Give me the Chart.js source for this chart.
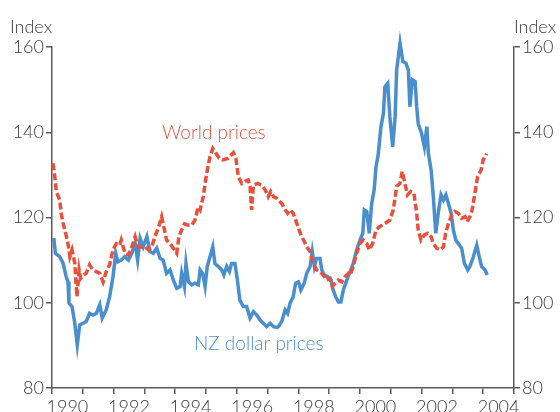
<!DOCTYPE html>
<html lang="en">
  <head>
    <meta charset="utf-8" />
    <title>World and NZ dollar prices</title>
    <style>
      html, body { margin: 0; padding: 0; background: #fff; }
      #wrap { width: 560px; height: 412px; }
    </style>
  </head>
  <body>
    <div id="wrap"><canvas id="pricesChart" width="560" height="412"></canvas></div>

    <script src="https://cdn.jsdelivr.net/npm/chart.js"></script>
    <script>
      // values (index, decimal year)
      const worldYears = [1990.03, 1990.09, 1990.14, 1990.25, 1990.30, 1990.36, 1990.43, 1990.52, 1990.58, 1990.65,
        1990.74, 1990.81, 1990.88, 1990.93, 1991.01, 1991.11, 1991.22, 1991.33, 1991.44, 1991.55,
        1991.66, 1991.76, 1991.87, 1991.98, 1992.09, 1992.20, 1992.25, 1992.37, 1992.48, 1992.59,
        1992.70, 1992.80, 1992.91, 1993.02, 1993.13, 1993.24, 1993.34, 1993.45, 1993.56, 1993.65,
        1993.72, 1993.83, 1993.94, 1994.05, 1994.12, 1994.21, 1994.30, 1994.43, 1994.54, 1994.64,
        1994.75, 1994.81, 1994.91, 1995.02, 1995.13, 1995.22, 1995.33, 1995.43, 1995.56, 1995.72,
        1995.89, 1995.97, 1996.05, 1996.16, 1996.27, 1996.37, 1996.43, 1996.48, 1996.54, 1996.67,
        1996.81, 1996.92, 1997.02, 1997.10, 1997.19, 1997.30, 1997.40, 1997.46, 1997.57, 1997.65,
        1997.73, 1997.83, 1997.95, 1998.02, 1998.11, 1998.19, 1998.27, 1998.38, 1998.48, 1998.59,
        1998.70, 1998.81, 1998.92, 1999.03, 1999.10, 1999.19, 1999.30, 1999.41, 1999.51, 1999.62,
        1999.68, 1999.78, 1999.89, 2000.00, 2000.11, 2000.22, 2000.30, 2000.41, 2000.52, 2000.65,
        2000.81, 2000.97, 2001.08, 2001.19, 2001.30, 2001.37, 2001.46, 2001.54, 2001.65, 2001.75,
        2001.84, 2001.89, 2001.98, 2002.09, 2002.20, 2002.31, 2002.38, 2002.49, 2002.60, 2002.71,
        2002.78, 2002.87, 2002.98, 2003.08, 2003.19, 2003.30, 2003.41, 2003.48, 2003.57, 2003.64,
        2003.73, 2003.82, 2003.93, 2004.00, 2004.11];
      const worldIndex = [132.7, 129.6, 126.1, 124.1, 121.0, 118.6, 116.7, 113.9, 110.8, 112.4,
        109.3, 101.4, 107.7, 105.7, 106.5, 106.9, 108.9, 107.7, 107.3, 106.9,
        104.9, 107.3, 108.9, 112.4, 113.9, 113.5, 114.7, 111.6, 111.2, 113.1,
        115.5, 113.1, 113.1, 113.1, 112.4, 113.1, 115.5, 117.5, 120.2, 117.1,
        114.7, 113.9, 112.8, 111.6, 115.5, 117.1, 118.5, 118.2, 118.2, 119.4,
        122.5, 121.8, 124.9, 130.3, 134.3, 136.2, 135.0, 133.9, 133.5, 133.9,
        135.2, 133.9, 129.6, 128.0, 128.5, 128.8, 127.3, 121.8, 127.6, 128.0,
        127.6, 126.5, 124.9, 126.1, 124.9, 124.5, 123.7, 123.3, 121.8, 121.0,
        121.8, 121.0, 118.6, 117.1, 115.5, 114.4, 113.1, 112.0, 109.2, 107.7,
        107.3, 106.5, 105.3, 105.7, 103.8, 104.6, 105.3, 104.9, 106.1, 106.9,
        106.5, 108.5, 111.6, 113.9, 114.7, 113.9, 112.4, 113.9, 117.1, 117.9,
        118.6, 119.4, 121.8, 127.3, 128.0, 130.8, 128.0, 125.3, 126.1, 125.7,
        121.0, 117.1, 114.7, 115.9, 116.3, 115.5, 113.9, 112.8, 112.4, 113.1,
        116.3, 118.6, 120.6, 121.4, 121.0, 119.8, 120.2, 119.0, 120.2, 121.8,
        125.7, 129.6, 131.1, 133.5, 135.0];

      const nzYears = [1990.06, 1990.11, 1990.25, 1990.36, 1990.46, 1990.52, 1990.55, 1990.65, 1990.74, 1990.82,
        1990.90, 1991.01, 1991.11, 1991.22, 1991.33, 1991.44, 1991.55, 1991.63, 1991.76, 1991.87,
        1991.98, 1992.07, 1992.14, 1992.25, 1992.36, 1992.48, 1992.59, 1992.70, 1992.78, 1992.86,
        1992.96, 1993.08, 1993.18, 1993.29, 1993.40, 1993.51, 1993.61, 1993.72, 1993.83, 1993.94,
        1994.05, 1994.16, 1994.21, 1994.30, 1994.35, 1994.43, 1994.54, 1994.64, 1994.75, 1994.81,
        1994.89, 1994.97, 1995.04, 1995.13, 1995.22, 1995.29, 1995.40, 1995.51, 1995.58, 1995.67,
        1995.76, 1995.83, 1995.94, 1996.02, 1996.10, 1996.21, 1996.32, 1996.43, 1996.54, 1996.65,
        1996.75, 1996.86, 1996.97, 1997.08, 1997.19, 1997.30, 1997.35, 1997.46, 1997.57, 1997.65,
        1997.73, 1997.83, 1997.91, 1998.00, 1998.08, 1998.19, 1998.27, 1998.38, 1998.45, 1998.52,
        1998.59, 1998.70, 1998.76, 1998.84, 1998.95, 1999.06, 1999.13, 1999.21, 1999.30, 1999.38,
        1999.46, 1999.57, 1999.68, 1999.78, 1999.89, 2000.00, 2000.09, 2000.14, 2000.22, 2000.30,
        2000.38, 2000.46, 2000.52, 2000.59, 2000.68, 2000.76, 2000.81, 2000.90, 2000.97, 2001.06,
        2001.14, 2001.19, 2001.30, 2001.39, 2001.49, 2001.57, 2001.62, 2001.70, 2001.79, 2001.84,
        2001.89, 2002.00, 2002.09, 2002.17, 2002.22, 2002.31, 2002.38, 2002.46, 2002.54, 2002.63,
        2002.71, 2002.79, 2002.87, 2002.96, 2003.03, 2003.11, 2003.19, 2003.30, 2003.39, 2003.50,
        2003.57, 2003.68, 2003.79, 2003.87, 2003.95, 2004.06, 2004.13];
      const nzIndex = [115.2, 111.6, 110.8, 109.3, 106.1, 104.9, 99.9, 99.1, 95.2, 90.1,
        94.8, 95.2, 95.6, 97.5, 97.1, 97.5, 99.5, 96.4, 98.3, 101.4,
        106.1, 111.6, 109.6, 110.0, 110.8, 110.0, 111.6, 113.9, 110.0, 115.1,
        113.1, 115.5, 112.0, 111.6, 112.8, 110.4, 110.0, 106.9, 107.7, 105.3,
        103.4, 103.8, 106.9, 103.8, 109.2, 104.9, 104.2, 104.6, 104.2, 107.7,
        106.9, 103.8, 108.5, 110.8, 113.1, 109.2, 108.5, 107.7, 106.5, 108.5,
        107.3, 109.2, 109.2, 105.3, 100.6, 99.1, 99.1, 96.4, 97.9, 97.1,
        96.0, 95.2, 94.4, 95.2, 94.4, 94.2, 94.4, 95.6, 98.3, 97.5,
        99.9, 101.4, 104.6, 104.9, 103.0, 104.6, 106.9, 108.5, 112.0, 108.5,
        110.4, 110.4, 107.7, 106.5, 106.1, 105.3, 103.0, 101.4, 100.2, 100.2,
        103.0, 105.3, 107.3, 109.2, 112.4, 114.7, 116.3, 121.8, 121.4, 116.3,
        123.3, 126.5, 131.9, 134.7, 141.3, 144.4, 150.7, 151.5, 143.6, 136.6,
        143.6, 154.6, 160.9, 156.6, 156.2, 154.6, 146.0, 152.3, 151.9, 146.0,
        142.0, 139.7, 136.6, 141.3, 135.0, 131.1, 124.9, 116.3, 121.0, 125.3,
        124.1, 125.3, 123.3, 121.0, 117.1, 114.7, 113.9, 112.8, 109.2, 107.7,
        108.5, 110.8, 113.5, 110.8, 108.5, 107.7, 106.5];

      const yTicks = [80, 100, 120, 140, 160];
      const yearTicks = [1990, 1991, 1992, 1993, 1994, 1995, 1996, 1997, 1998, 1999, 2000, 2001, 2002, 2003, 2004, 2005];

      const RED = '#e8503b';
      const BLUE = '#4a8fcd';
      const AXIS = '#5a5a5a';
      const TEXT = '#3a3a3a';
      const FONT = 'Lato, "Open Sans", sans-serif';

      const toPoints = (xs, ys) => xs.map((x, i) => ({ x: x, y: ys[i] }));

      // text that sits inside the picture: unit labels and series names
      const labelsPlugin = {
        id: 'labels',
        afterDraw(chart) {
          const ctx = chart.ctx;
          ctx.save();
          ctx.textBaseline = 'alphabetic';
          ctx.font = '300 18px ' + FONT;
          ctx.fillStyle = TEXT;
          ctx.textAlign = 'left';
          ctx.fillText('Index', 10, 33);
          ctx.fillText('Index', 514, 33);
          ctx.font = '300 19px ' + FONT;
          ctx.fillStyle = RED;
          ctx.fillText('World prices', 162, 139);
          ctx.fillStyle = BLUE;
          ctx.fillText('NZ dollar prices', 194, 350);
          ctx.restore();
        }
      };

      const yAxis = (position, width) => ({
        type: 'linear',
        position: position,
        min: 80,
        max: 160,
        afterBuildTicks: s => { s.ticks = yTicks.map(v => ({ value: v })); },
        afterFit: s => { s.width = width; },
        grid: { drawOnChartArea: false, drawTicks: true, tickLength: 6, color: AXIS, lineWidth: 1.5 },
        border: { display: true, color: AXIS, width: 1.5 },
        ticks: { color: TEXT, font: { family: FONT, size: 18, weight: '300' }, padding: 2 }
      });

      new Chart(document.getElementById('pricesChart').getContext('2d'), {
        type: 'line',
        data: {
          datasets: [
            {
              label: 'World prices',
              data: toPoints(worldYears, worldIndex),
              borderColor: RED,
              borderWidth: 3.5,
              borderDash: [7, 3],
              pointRadius: 0,
              tension: 0,
              clip: false
            },
            {
              label: 'NZ dollar prices',
              data: toPoints(nzYears, nzIndex),
              borderColor: BLUE,
              borderWidth: 3.5,
              pointRadius: 0,
              tension: 0,
              clip: false
            }
          ]
        },
        options: {
          responsive: false,
          animation: false,
          layout: { padding: { top: 47, left: 0, right: 0, bottom: 0 } },
          plugins: { legend: { display: false }, tooltip: { enabled: false } },
          scales: {
            x: {
              type: 'linear',
              min: 1990,
              max: 2005,
              afterBuildTicks: s => { s.ticks = yearTicks.map(v => ({ value: v })); },
              afterFit: s => { s.height = 24; },
              grid: { drawOnChartArea: false, drawTicks: true, tickLength: 6, color: AXIS, lineWidth: 1.5 },
              border: { display: true, color: AXIS, width: 1.5 },
              ticks: {
                color: TEXT,
                font: { family: FONT, size: 18, weight: '300' },
                padding: 2,
                autoSkip: false,
                maxRotation: 0,
                labelOffset: 15.4,
                callback: v => (v % 2 === 0 && v < 2005 ? String(v) : '')
              }
            },
            y: yAxis('left', 52),
            y2: yAxis('right', 46)
          }
        },
        plugins: [labelsPlugin]
      });
    </script>
  </body>
</html>
